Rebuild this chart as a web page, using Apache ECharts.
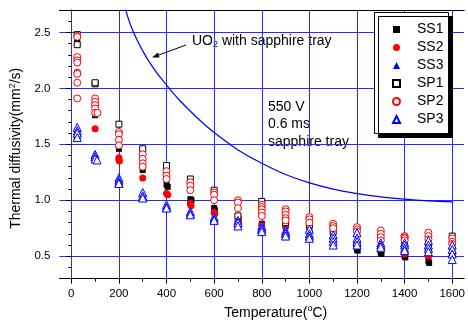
<!DOCTYPE html>
<html>
<head>
<meta charset="utf-8">
<script src="https://cdn.jsdelivr.net/npm/echarts@6/dist/echarts.min.js"></script>
<style>
html,body{margin:0;padding:0;background:#fff;}
#chart{width:468px;height:325px;}
</style>
</head>
<body>
<div id="chart"></div>
<script>
// axis ticks
var xTicks = [0, 200, 400, 600, 800, 1000, 1200, 1400, 1600];
var xMinor = [100, 300, 500, 700, 900, 1100, 1300, 1500];
var yTicks = [0.5, 1.0, 1.5, 2.0, 2.5];
var yMinor = [0.3, 0.4, 0.6, 0.7, 0.8, 0.9, 1.1, 1.2, 1.3, 1.4, 1.6, 1.7, 1.8, 1.9, 2.1, 2.2, 2.3, 2.4, 2.6, 2.7];

// UO2 with sapphire tray (reference curve)
var uo2Curve = [[220,2.77],[250,2.56],[300,2.335],[350,2.165],[400,2.03],[450,1.905],[500,1.795],
  [550,1.695],[600,1.605],[650,1.525],[700,1.45],[800,1.33],[900,1.23],[1000,1.155],[1100,1.10],
  [1200,1.06],[1300,1.03],[1400,1.01],[1500,0.995],[1600,0.985]];

// measured series [temperature, diffusivity]
var ss1 = [[25,2.44],[100,1.76],[200,1.46],[300,1.27],[400,1.14],[405,1.12],[500,1.01],[505,1.00],
  [600,0.93],[603,0.91],[700,0.84],[703,0.83],[800,0.79],[900,0.79],[1000,0.76],[1100,0.71],
  [1200,0.56],[1203,0.55],[1300,0.53],[1303,0.52],[1400,0.50],[1403,0.49],[1500,0.46],[1503,0.44],[1600,0.55]];
var ss2 = [[100,1.64],[200,1.38],[200,1.36],[202,1.35],[300,1.20],[400,1.06],[405,1.05],[500,0.97],[503,0.95],
  [600,0.89],[603,0.88],[700,0.82],[800,0.78],[900,0.76],[1000,0.72],[1100,0.66],[1200,0.59],
  [1300,0.56],[1400,0.52],[1500,0.50],[1600,0.53]];
var ss3 = [[25,1.58],[100,1.37],[200,1.18],[300,1.03],[400,0.94],[500,0.88],[600,0.83],[700,0.79],
  [800,0.75],[900,0.72],[1000,0.68],[1100,0.63],[1200,0.62],[1300,0.58],[1400,0.56],[1500,0.58],[1600,0.54]];
var sp1 = [[25,2.48],[25,2.39],[100,2.04],[100,2.05],[200,1.68],[300,1.46],[400,1.31],[500,1.19],
  [600,1.09],[700,0.86],[800,0.99],[900,0.80],[1000,0.78],[1100,0.72],[1200,0.60],[1300,0.56],
  [1400,0.60],[1500,0.58],[1600,0.68]];
var sp2 = [[25,2.47],[25,2.46],[25,2.28],[25,2.25],[25,2.23],[25,2.14],[25,2.13],[25,2.05],[25,1.91],
  [100,1.91],[100,1.88],[100,1.85],[100,1.82],[100,1.78],[110,1.78],
  [200,1.61],[200,1.59],[200,1.54],[200,1.49],
  [300,1.41],[300,1.37],[300,1.33],[300,1.30],
  [400,1.26],[400,1.22],[400,1.19],
  [500,1.16],[500,1.13],[500,1.09],
  [600,1.07],[600,1.05],[600,1.00],
  [700,1.00],[700,0.98],[700,0.93],
  [800,0.96],[800,0.94],[800,0.92],[800,0.89],[800,0.86],
  [900,0.92],[900,0.90],[900,0.87],[900,0.84],[900,0.82],
  [1000,0.85],[1000,0.83],[1000,0.80],
  [1100,0.79],[1100,0.77],[1100,0.75],
  [1200,0.76],[1200,0.74],[1200,0.72],
  [1300,0.73],[1300,0.70],[1300,0.67],[1300,0.64],
  [1400,0.68],[1400,0.67],[1400,0.66],[1400,0.64],
  [1500,0.71],[1500,0.68],[1500,0.65],
  [1600,0.66],[1600,0.63],[1600,0.61]];
var sp3 = [[25,1.65],[25,1.62],[25,1.60],[25,1.56],
  [100,1.41],[100,1.39],[100,1.37],[108,1.36],
  [200,1.20],[200,1.18],[200,1.16],[200,1.15],
  [300,1.07],[300,1.04],[300,1.02],
  [400,0.96],[400,0.94],[400,0.93],
  [500,0.90],[500,0.88],[500,0.87],
  [600,0.85],[600,0.83],[600,0.82],
  [700,0.82],[700,0.80],[700,0.77],
  [800,0.77],[800,0.75],[800,0.74],[800,0.72],
  [900,0.73],[900,0.71],[900,0.70],[900,0.68],
  [1000,0.74],[1000,0.70],[1000,0.68],[1000,0.66],
  [1100,0.69],[1100,0.66],[1100,0.63],[1100,0.60],
  [1200,0.71],[1200,0.66],[1200,0.63],[1200,0.60],
  [1300,0.62],[1300,0.60],[1300,0.58],
  [1400,0.62],[1400,0.60],[1400,0.57],[1400,0.55],
  [1500,0.64],[1500,0.60],[1500,0.57],[1500,0.54],
  [1600,0.60],[1600,0.56],[1600,0.52],[1600,0.47]];

var FONT = '"Liberation Sans", Arial, sans-serif';
var GRIDBLUE = '#2a2aff';

function pts(name, data, symbol, size, color, hollow) {
  return {
    name: name, type: 'scatter', data: data, symbol: symbol, symbolSize: size,
    itemStyle: hollow ? {color: '#fff', borderColor: color, borderWidth: 1, opacity: 1}
                      : {color: color, opacity: 1},
    emphasis: {disabled: true}
  };
}

var myChart = echarts.init(document.getElementById('chart'));
var option = {
  animation: false,
  backgroundColor: '#fff',
  textStyle: {fontFamily: FONT},
  grid: {left: 59, right: 2, top: 10, bottom: 44},
  xAxis: [{
    type: 'value', min: -50, max: 1650, position: 'bottom',
    name: 'Temperature({sup|o}C)', nameLocation: 'middle', nameGap: 23,
    nameTextStyle: {fontSize: 14, color: '#000', fontFamily: FONT, padding: [0, 0, 0, 28],
      rich: {sup: {fontSize: 9, verticalAlign: 'top', padding: [0, 0, 8, 0], fontFamily: FONT}}},
    axisLine: {lineStyle: {color: '#000', width: 1}},
    axisTick: {customValues: xTicks, length: 5, lineStyle: {color: '#000'}},
    axisLabel: {customValues: xTicks, margin: 9, fontSize: 11.5, color: '#000', fontFamily: FONT,
      formatter: function (v) { return String(v); }},
    splitLine: {show: true, lineStyle: {color: GRIDBLUE, width: 1}}
  }, {
    type: 'value', min: -50, max: 1650, position: 'bottom',
    axisLine: {show: false},
    axisTick: {customValues: xMinor, length: 3, lineStyle: {color: '#000'}},
    axisLabel: {show: false}, splitLine: {show: false}
  }, {
    type: 'value', min: -50, max: 1650, position: 'top',
    axisLine: {lineStyle: {color: '#000'}},
    axisTick: {show: false}, axisLabel: {show: false}, splitLine: {show: false}
  }],
  yAxis: [{
    type: 'value', min: 0.3, max: 2.7, position: 'left',
    name: 'Thermal diffusivity(mm{sup|2}/s)', nameLocation: 'middle', nameGap: 21,
    nameTextStyle: {fontSize: 14, color: '#000', fontFamily: FONT, padding: [0, 8, 0, 0],
      rich: {sup: {fontSize: 9, verticalAlign: 'top', padding: [0, 0, 8, 0], fontFamily: FONT}}},
    axisLine: {lineStyle: {color: '#000', width: 1}},
    axisTick: {customValues: yTicks, length: 5, lineStyle: {color: '#000'}},
    axisLabel: {customValues: yTicks, margin: 9, fontSize: 11.5, color: '#000', fontFamily: FONT,
      formatter: function (v) { return v.toFixed(1); }},
    splitLine: {show: true, lineStyle: {color: GRIDBLUE, width: 1}}
  }, {
    type: 'value', min: 0.3, max: 2.7, position: 'left',
    axisLine: {show: false},
    axisTick: {customValues: yMinor, length: 3, lineStyle: {color: '#000'}},
    axisLabel: {show: false}, splitLine: {show: false}
  }, {
    type: 'value', min: 0.3, max: 2.7, position: 'right',
    axisLine: {show: true, lineStyle: {color: GRIDBLUE}},
    axisTick: {show: false}, axisLabel: {show: false}, splitLine: {show: false}
  }],
  legend: {
    orient: 'vertical', left: 374, top: 12, z: 5,
    data: ['SS1', 'SS2', 'SS3', 'SP1', 'SP2', 'SP3'],
    itemWidth: 7, itemHeight: 7, itemGap: 3,
    padding: [10, 0, 8, 18],
    backgroundColor: 'transparent', borderWidth: 0,
    textStyle: {fontSize: 14, color: '#000', fontFamily: FONT, lineHeight: 15, padding: [0, 0, 0, 12]},
    selectedMode: false
  },
  series: [
    {
      name: 'UO2', type: 'line', data: uo2Curve, smooth: 0.4, symbol: 'none', clip: true,
      lineStyle: {color: '#0000ff', width: 1.2}, z: 1
    },
    pts('SS1', ss1, 'rect', 6, '#000', false),
    pts('SS2', ss2, 'circle', 7, '#ff0000', false),
    pts('SS3', ss3, 'triangle', 8, '#0000ff', false),
    pts('SP1', sp1, 'rect', 6, '#000', true),
    pts('SP2', sp2, 'circle', 7, '#ff0000', true),
    pts('SP3', sp3, 'triangle', 8, '#0000ff', true)
  ],
  graphic: [
    // legend frame with drop shadow
    {type: 'rect', z: 3, shape: {x: 374.5, y: 12.5, width: 74, height: 121},
      style: {fill: '#fff', stroke: '#000', lineWidth: 1, shadowColor: '#000', shadowOffsetX: 4, shadowOffsetY: 4, shadowBlur: 0}},
    {type: 'line', shape: {x1: 186, y1: 45, x2: 156, y2: 56}, style: {stroke: '#000', lineWidth: 1}},
    {type: 'polygon', shape: {points: [[152, 57.5], [159.5, 57.5], [158, 52.5]]}, style: {fill: '#000'}},
    {type: 'text', left: 192, top: 34, style: {
      text: '{n|UO}{s|2}{n| with sapphire tray}', fill: '#000',
      rich: {n: {fontSize: 14, fontFamily: FONT}, s: {fontSize: 9, fontFamily: FONT, verticalAlign: 'bottom', padding: [8, 0, 0, 0]}}}},
    {type: 'text', left: 268, top: 100, style: {text: '550 V', fill: '#000', fontSize: 14, fontFamily: FONT}},
    {type: 'text', left: 268, top: 117, style: {text: '0.6 ms', fill: '#000', fontSize: 14, fontFamily: FONT}},
    {type: 'text', left: 268, top: 135, style: {text: 'sapphire tray', fill: '#000', fontSize: 14, fontFamily: FONT}}
  ]
};
myChart.setOption(option);
</script>
</body>
</html>
